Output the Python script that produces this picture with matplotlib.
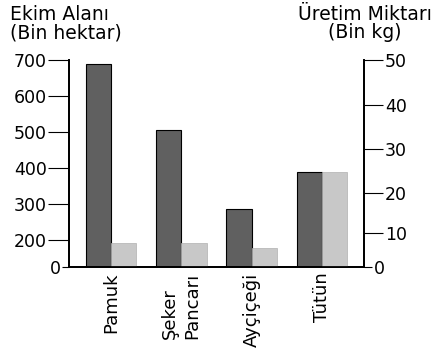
import numpy as np
import matplotlib.pyplot as plt

plt.rcParams['font.family'] = ['DejaVu Sans']

# data
crops = ['Pamuk', 'Şeker\nPancarı', 'Ayçiçeği', 'Tütün']
ekim_alani = [690, 505, 285, 390]      # bin hektar (left axis)
uretim = [7.0, 7.0, 5.4, 24.7]         # bin kg (right axis)
left_ticks = [200, 300, 400, 500, 600, 700]
right_ticks = [10, 20, 30, 40, 50]

# the printed axes are not linear: piecewise scales
lv = [-1000, 0, 200, 700, 5000]
lp = [-133.5, 0, 26.7, 207.2, 1759.5]
rv = [-100, 0, 10, 20, 30, 40, 50, 500]
rp = [-344, 0, 34.4, 74.4, 118.4, 163.4, 208.4, 2233.4]

def lfwd(v): return np.interp(v, lv, lp)
def linv(p): return np.interp(p, lp, lv)
def rfwd(v): return np.interp(v, rv, rp)
def rinv(p): return np.interp(p, rp, rv)

fig = plt.figure(figsize=(4.36, 3.52), dpi=100)
ax = fig.add_axes([0.1583, 0.2423, 0.6766, 0.5872])
ax2 = ax.twinx()

x = np.arange(len(crops))
w = 0.36
ax.bar(x - w / 2, ekim_alani, w, color='#606060', edgecolor='black', linewidth=0.8, zorder=2)
ax2.bar(x + w / 2, uretim, w, color='#c8c8c8', edgecolor='#b0b0b0', linewidth=0.5, zorder=2)

ax.set_yscale('function', functions=(lfwd, linv))
ax2.set_yscale('function', functions=(rfwd, rinv))
ax.set_ylim(0, 700)
ax2.set_ylim(0, 50)
ax.set_xlim(-0.6, 3.6)

for a in (ax, ax2):
    a.spines['top'].set_visible(False)
    for s in a.spines.values():
        s.set_linewidth(1.3)

ax.set_yticks(left_ticks)
ax.set_yticks([0], minor=True)
ax.set_yticklabels([str(t) for t in left_ticks])
ax.set_yticklabels(['0'], minor=True)
ax.tick_params(axis='y', which='major', length=15, width=0.8, pad=1, labelsize=12.5)
ax.tick_params(axis='y', which='minor', length=5, width=0.8, pad=1, labelsize=12.5)

ax2.set_yticks(right_ticks)
ax2.set_yticks([0], minor=True)
ax2.set_yticklabels([str(t) for t in right_ticks])
ax2.set_yticklabels(['0'], minor=True)
ax2.tick_params(axis='y', which='major', length=14, width=0.8, pad=1, labelsize=12.5)
ax2.tick_params(axis='y', which='minor', length=6, width=0.8, pad=1, labelsize=12.5)

ax.set_xticks(x)
ax.set_xticklabels(crops, rotation=90, fontsize=13, va='top', ha='center',
                   multialignment='left', linespacing=1.3)
ax.tick_params(axis='x', length=0, pad=4)

fig.text(0.022, 0.985, 'Ekim Alanı\n(Bin hektar)', ha='left', va='top',
         fontsize=13.5, linespacing=0.93)
fig.text(0.837, 0.985, 'Üretim Miktarı\n(Bin kg)', ha='center', va='top',
         fontsize=13.5, linespacing=0.93, multialignment='center')

fig.savefig('out.png', dpi=100)
